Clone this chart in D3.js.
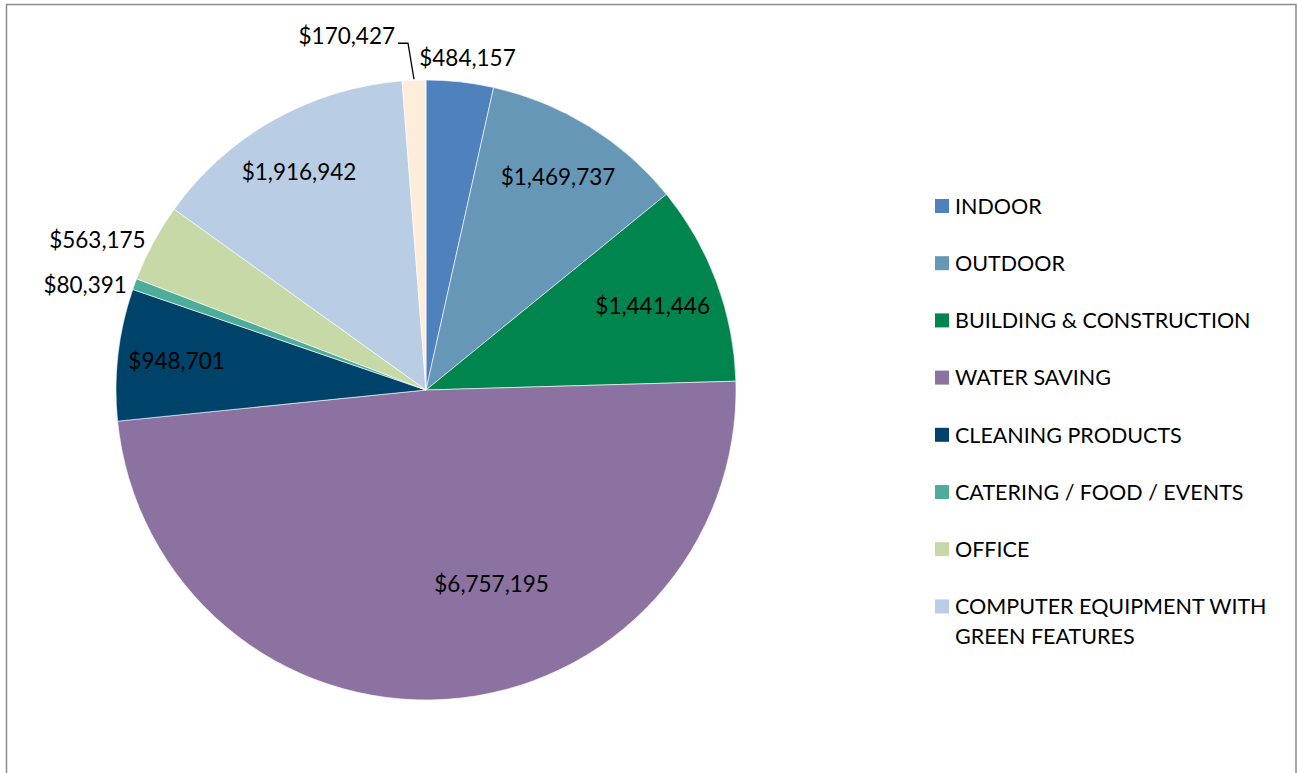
<!DOCTYPE html>
<html>
<head>
<meta charset="utf-8">
<script src="https://cdn.jsdelivr.net/npm/d3@7"></script>
<style>
  html, body { margin: 0; padding: 0; background: #fff; }
  svg { display: block; font-family: "Lato", "Open Sans", sans-serif; }
</style>
</head>
<body>
<svg id="chart" width="1297" height="773"></svg>
<script>
// Green purchasing spend by category
const categories = [
  "INDOOR",
  "OUTDOOR",
  "BUILDING & CONSTRUCTION",
  "WATER SAVING",
  "CLEANING PRODUCTS",
  "CATERING / FOOD / EVENTS",
  "OFFICE",
  "COMPUTER EQUIPMENT WITH GREEN FEATURES",
  "OTHER"
];
const values = [484157, 1469737, 1441446, 6757195, 948701, 80391, 563175, 1916942, 170427];
const colors = ["#4F81BD", "#6797B7", "#00854F", "#8C72A1", "#00436A", "#4EAD9A", "#C6D9A6", "#B9CDE5", "#FDEEDB"];
// Legend lists the first eight categories; long names wrap onto two lines
const legendLines = [
  ["INDOOR"],
  ["OUTDOOR"],
  ["BUILDING & CONSTRUCTION"],
  ["WATER SAVING"],
  ["CLEANING PRODUCTS"],
  ["CATERING / FOOD / EVENTS"],
  ["OFFICE"],
  ["COMPUTER EQUIPMENT WITH", "GREEN FEATURES"]
];

// Label placement: inside labels sit on a fraction of the radius,
// outside labels sit just past the rim with their own anchor.
const labelPlacement = [
  { mode: "out", anchor: "middle", dx: 7, dy: -20 },
  { mode: "in", rf: 0.81 },
  { mode: "in", rf: 0.78 },
  { mode: "in", rf: 0.66, angleShift: -15 },
  { mode: "in", rf: 0.81 },
  { mode: "out", anchor: "end", dx: -4, dy: 2 },
  { mode: "out", anchor: "end", dx: -4, dy: -1 },
  { mode: "in", rf: 0.815, angleShift: -0.8 },
  { mode: "leader", anchor: "end", lx: -16, ly: -37 }
];

const svg = d3.select("#chart");
const W = 1297, H = 773;

// chart area frame
svg.append("rect")
  .attr("x", 6.5).attr("y", 4.5)
  .attr("width", W - 7.5).attr("height", H + 10)
  .attr("fill", "#fff")
  .attr("stroke", "#8c8c8c").attr("stroke-width", 1.5);

const cx = 426, cy = 390, R = 310;
const fmt = v => "$" + d3.format(",")(v);

const pie = d3.pie().sort(null).value(d => d)(values);
const arc = d3.arc().innerRadius(0).outerRadius(R);

const g = svg.append("g").attr("transform", `translate(${cx},${cy})`);

g.selectAll("path.slice")
  .data(pie)
  .join("path")
  .attr("class", "slice")
  .attr("d", arc)
  .attr("fill", (d, i) => colors[i])
  .attr("stroke", "#fff")
  .attr("stroke-width", 0.6);

const polar = (a, r) => [r * Math.sin(a), -r * Math.cos(a)];

pie.forEach((d, i) => {
  const p = labelPlacement[i];
  const mid = (d.startAngle + d.endAngle) / 2;
  const label = fmt(values[i]);
  let x, y, anchor = "middle";
  if (p.mode === "in") {
    const a = mid + (p.angleShift || 0) * Math.PI / 180;
    [x, y] = polar(a, R * p.rf);
  } else if (p.mode === "out") {
    [x, y] = polar(mid, R + 4);
    x += p.dx; y += p.dy;
    anchor = p.anchor;
  } else {
    const [ex, ey] = polar(mid, R);
    const kx = ex - 6, ky = ey + p.ly;
    g.append("polyline")
      .attr("points", [[ex, ey - 1], [kx, ky], [kx - 10, ky]].map(q => q.join(",")).join(" "))
      .attr("fill", "none")
      .attr("stroke", "#000")
      .attr("stroke-width", 1.3);
    x = kx - 13; y = ky - 7;
    anchor = p.anchor;
  }
  g.append("text")
    .attr("x", x).attr("y", y)
    .attr("dy", "0.36em")
    .attr("text-anchor", anchor)
    .attr("font-size", 22.5)
    .attr("fill", "#000")
    .text(label);
});

// legend
const legend = svg.append("g").attr("transform", "translate(935,206)");
const rowStep = 57.2;
legendLines.forEach((lines, i) => {
  const row = legend.append("g").attr("transform", `translate(0,${i * rowStep})`);
  row.append("rect")
    .attr("x", 0).attr("y", -7)
    .attr("width", 14).attr("height", 14)
    .attr("fill", colors[i]);
  lines.forEach((t, j) => {
    row.append("text")
      .attr("x", 20).attr("y", j * 30)
      .attr("dy", "0.36em")
      .attr("font-size", 21.5)
      .attr("fill", "#000")
      .text(t);
  });
});
</script>
</body>
</html>
